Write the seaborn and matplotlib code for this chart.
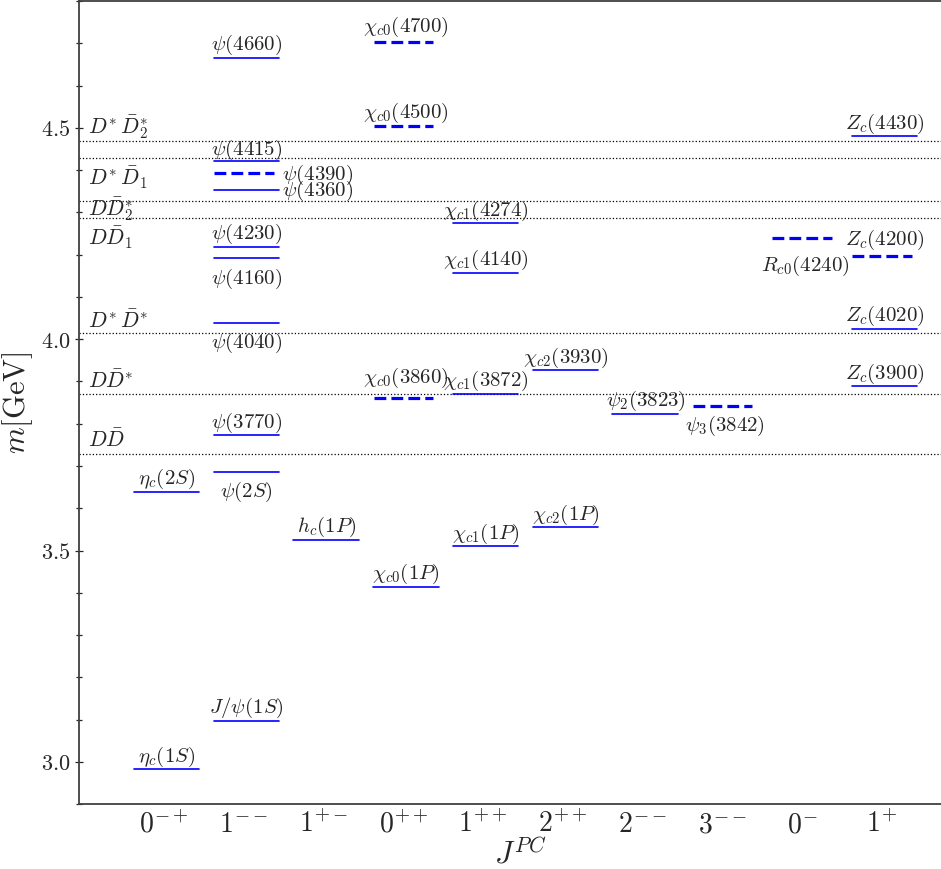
import numpy as np
import pandas as pd
import matplotlib
matplotlib.use('Agg')
import matplotlib.pyplot as plt
from matplotlib.ticker import MultipleLocator
import seaborn as sns

# J^PC columns
jpc_labels = [r'$0^{-+}$', r'$1^{--}$', r'$1^{+-}$', r'$0^{++}$', r'$1^{++}$',
              r'$2^{++}$', r'$2^{--}$', r'$3^{--}$', r'$0^{-}$', r'$1^{+}$']

# charmonium(-like) states: label, column (1..10), mass [GeV], predicted (dashed)
names = [r'$\eta_c(1S)$', r'$\eta_c(2S)$',
         r'$J/\psi(1S)$', r'$\psi(2S)$', r'$\psi(3770)$', r'$\psi(4040)$',
         r'$\psi(4160)$', r'$\psi(4230)$', r'$\psi(4360)$', r'$\psi(4390)$',
         r'$\psi(4415)$', r'$\psi(4660)$',
         r'$h_c(1P)$',
         r'$\chi_{c0}(1P)$', r'$\chi_{c0}(3860)$', r'$\chi_{c0}(4500)$', r'$\chi_{c0}(4700)$',
         r'$\chi_{c1}(1P)$', r'$\chi_{c1}(3872)$', r'$\chi_{c1}(4140)$', r'$\chi_{c1}(4274)$',
         r'$\chi_{c2}(1P)$', r'$\chi_{c2}(3930)$',
         r'$\psi_2(3823)$',
         r'$\psi_3(3842)$',
         r'$R_{c0}(4240)$',
         r'$Z_c(3900)$', r'$Z_c(4020)$', r'$Z_c(4200)$', r'$Z_c(4430)$']
cols = [1, 1,
        2, 2, 2, 2, 2, 2, 2, 2, 2, 2,
        3,
        4, 4, 4, 4,
        5, 5, 5, 5,
        6, 6,
        7,
        8,
        9,
        10, 10, 10, 10]
masses = [2.983, 3.639,
          3.097, 3.686, 3.773, 4.039, 4.191, 4.218, 4.354, 4.392, 4.421, 4.666,
          3.525,
          3.414, 3.862, 4.505, 4.703,
          3.510, 3.871, 4.157, 4.274,
          3.555, 3.927,
          3.823,
          3.842,
          4.239,
          3.889, 4.024, 4.196, 4.480]
predicted = [False, False,
             False, False, False, False, False, False, False, True, False, False,
             False,
             False, True, True, True,
             False, False, False, False,
             False, False,
             False,
             True,
             True,
             False, False, True, False]

# open-charm thresholds
thr_names = [r'$D^{*}\,\bar{D}_2^{*}$', r'$D^{*}\,\bar{D}_1$', r'$D\bar{D}_2^{*}$',
             r'$D\bar{D}_1$', r'$D^{*}\,\bar{D}^{*}$', r'$D\bar{D}^{*}$', r'$D\bar{D}$']
thr_masses = [4.469, 4.428, 4.327, 4.286, 4.014, 3.871, 3.728]

# label layout: 'a' above, 'b' below, 'r' right of the level
place = ['a', 'a',
         'a', 'b', 'a', 'b', 'b', 'a', 'r', 'r', 'a', 'a',
         'a',
         'a', 'a', 'a', 'a',
         'a', 'a', 'a', 'a',
         'a', 'a',
         'a',
         'b',
         'b',
         'a', 'a', 'a', 'a']
extra_dy = {r'$R_{c0}(4240)$': -0.018, r'$Z_c(4200)$': 0.010,
            r'$\chi_{c0}(3860)$': 0.016, r'$\chi_{c0}(4700)$': 0.006,
            r'$\psi(4415)$': -0.003}
thr_dy = [0.018, -0.064, -0.034, -0.064, 0.012, 0.013, 0.017]

sns.set_style('ticks')
plt.rcParams['font.family'] = ['DejaVu Serif']
plt.rcParams['mathtext.fontset'] = 'cm'

fig = plt.figure(figsize=(9.41, 8.69), dpi=100)
ax = fig.add_axes([0.0836, 0.0745, 0.9384, 0.9244])

rows = []
for n, c, m, p in zip(names, cols, masses, predicted):
    if p:
        x0, x1 = c - 0.375, c + 0.375
    else:
        x0, x1 = c - 0.38, c + 0.44
    rows.append(dict(name=n, x=x0, m=m, pred=p))
    rows.append(dict(name=n, x=x1, m=m, pred=p))
df = pd.DataFrame(rows)

sns.lineplot(data=df[~df['pred']], x='x', y='m', units='name', estimator=None,
             color='#0000ff', lw=1.2, ax=ax, legend=False)
sns.lineplot(data=df[df['pred']], x='x', y='m', units='name', estimator=None,
             color='#0000ff', lw=2.3, linestyle='--', ax=ax, legend=False)

for tn, tm, dy in zip(thr_names, thr_masses, thr_dy):
    ax.axhline(tm, color='k', ls=':', lw=0.9, zorder=1)
    ax.text(0.045, tm + dy, tn, ha='left', va='baseline', fontsize=15.5)

for n, c, m, pl in zip(names, cols, masses, place):
    dy = extra_dy.get(n, 0.0)
    if pl == 'a':
        ax.text(c + 0.035, m + 0.018 + dy, n, ha='center', va='baseline', fontsize=15)
    elif pl == 'b':
        ax.text(c + 0.035, m - 0.060 + dy, n, ha='center', va='baseline', fontsize=15)
    else:
        ax.text(c + 0.48, m - 0.016 + dy, n, ha='left', va='baseline', fontsize=15)

ax.set_xlim(-0.073, 11)
ax.set_ylim(2.9, 4.8)
ax.set_xticks(range(1, 11))
ax.set_xticklabels(jpc_labels, fontsize=20)
ax.tick_params(axis='x', length=0, pad=5)
ax.set_yticks([3.0, 3.5, 4.0, 4.5])
ax.set_yticklabels([r'$3.0$', r'$3.5$', r'$4.0$', r'$4.5$'], fontsize=16)
ax.yaxis.set_minor_locator(MultipleLocator(0.1))
ax.tick_params(axis='y', which='major', direction='inout', length=6, width=0.9, pad=3)
ax.tick_params(axis='y', which='minor', direction='inout', length=4, width=0.9)
for s in ax.spines.values():
    s.set_color('0.25')
    s.set_linewidth(1.3)
ax.set_xlabel(r'$J^{PC}$', fontsize=22, labelpad=0)
ax.set_ylabel(r'$m[\mathrm{GeV}]$', fontsize=22, labelpad=4)

fig.savefig('out.png', dpi=100)
